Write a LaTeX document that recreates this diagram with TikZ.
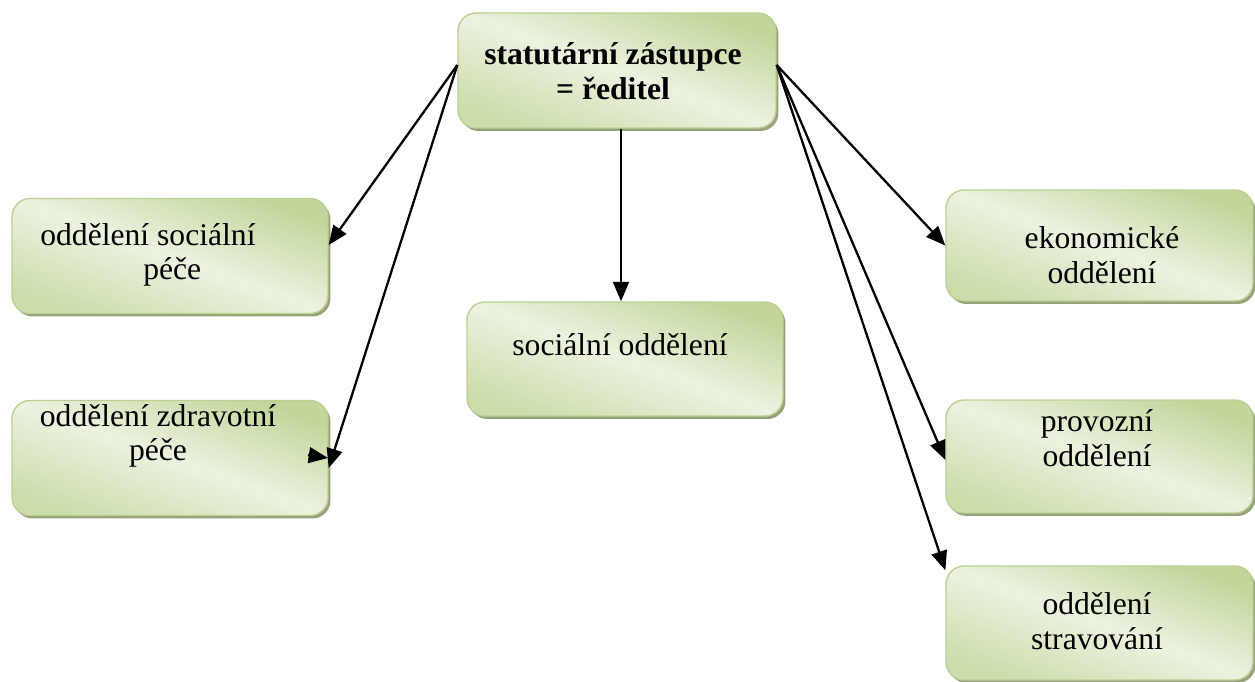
\documentclass[tikz,border=0pt]{standalone}
\usepackage{fontspec}
\setmainfont{Liberation Serif}
\usetikzlibrary{arrows.meta}
\usetikzlibrary{shadows}
\definecolor{boxdark}{RGB}{194,214,155}
\definecolor{boxlight}{RGB}{236,242,224}
\definecolor{boxline}{RGB}{188,208,148}
\definecolor{boxshadow}{RGB}{150,162,122}

\begin{document}
\begin{tikzpicture}[x=0.02cm,y=-0.02cm,dept/.style={draw=boxline, line width=0.8pt, rounded corners=0.36cm, top color=boxdark, bottom color=boxdark!75!boxlight, middle color=boxlight, shading angle=-20, drop shadow={shadow xshift=0.05cm, shadow yshift=-0.06cm, fill=boxshadow, opacity=1}, minimum width=6.32cm, minimum height=2.3cm, inner sep=0pt},lbl/.style={inner sep=0pt, align=center, font=\fontsize{18}{19.6}\selectfont},link/.style={-{Triangle[length=11pt,width=9pt]}, line width=1.3pt}]
	
	\useasboundingbox (0,0) rectangle (1255,682);
	
	\node[dept, minimum width=6.36cm] (head) at (617,70.5) {};
	\node[dept] (soc) at (170,256) {};
	\node[dept] (zdr) at (170,458) {};
	\node[dept, minimum height=2.28cm] (mid) at (625,359) {};
	\node[dept, minimum width=6.14cm, minimum height=2.22cm] (eko) at (1099.5,245.5) {};
	\node[dept, minimum width=6.14cm, minimum height=2.26cm] (prov) at (1099.5,456.5) {};
	\node[dept, minimum width=6.14cm, minimum height=2.28cm] (strav) at (1099.5,623) {};
	
	\node[lbl, font=\fontsize{18}{19.6}\selectfont\bfseries] (headtxt) at (613,71) {statutární zástupce\\= ředitel};
	\node[lbl, align=left, anchor=west] (soctxt) at (40,255) {oddělení sociální\\\hspace*{2.06cm}péče};
	\node[lbl] (zdrtxt) at (158,436) {oddělení zdravotní\\péče};
	\node[lbl] (midtxt) at (620,345) {sociální oddělení};
	\node[lbl] (ekotxt) at (1102,255) {ekonomické\\oddělení};
	\node[lbl] (provtxt) at (1097,438) {provozní\\oddělení};
	\node[lbl] (stravtxt) at (1097,621) {oddělení\\stravování};
	
	\draw[link] ([yshift=0.11cm]head.west) -- ([yshift=0.22cm]soc.east);
	\draw[link] ([yshift=0.11cm]head.west) -- ([yshift=-0.2cm]zdr.east);
	\draw[link] ([xshift=0.08cm]head.south) -- ([xshift=0.08cm]head.south |- mid.north);
	\draw[link] ([yshift=0.11cm]head.east) -- (eko.west);
	\draw[link] ([yshift=0.11cm]head.east) -- ([yshift=-0.07cm]prov.west);
	\draw[link] ([yshift=0.11cm]head.east) -- ([yshift=-0.1cm]strav.north west);
	
	\coordinate (stubtail) at (308,455);
	\coordinate (stubtip) at (328,458);
	\draw[link] (stubtail) -- (stubtip);
	
\end{tikzpicture}
\end{document}
